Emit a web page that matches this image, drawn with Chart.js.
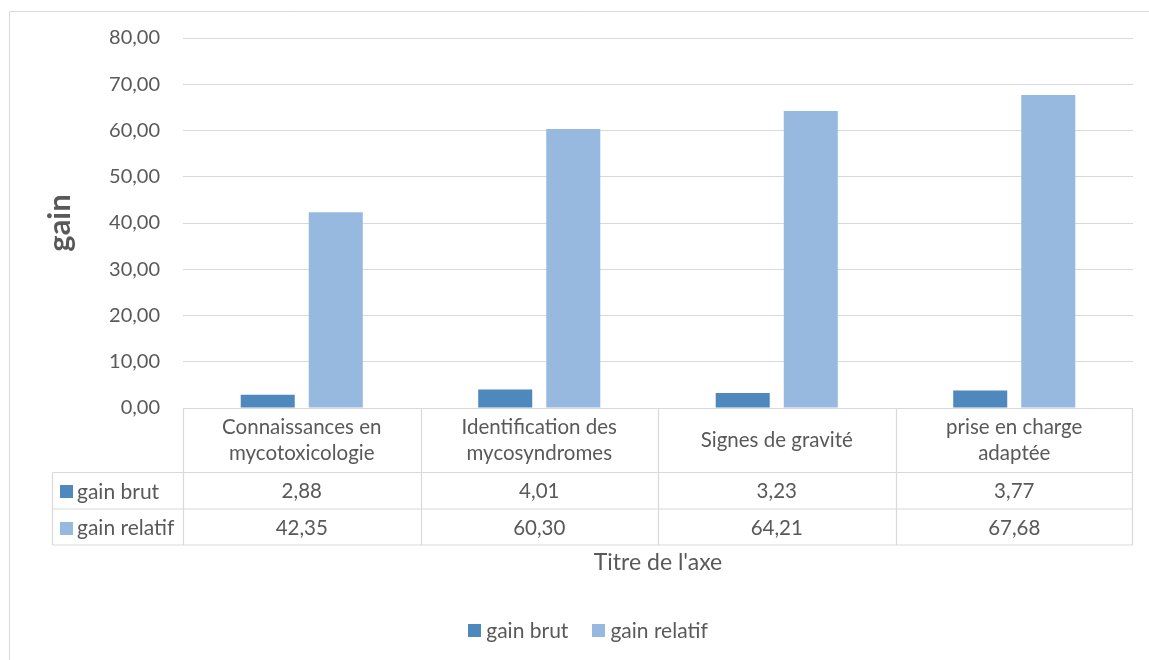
<!DOCTYPE html>
<html>
<head>
<meta charset="utf-8">
<script src="https://cdn.jsdelivr.net/npm/chart.js@4.4.1/dist/chart.umd.min.js"></script>
<style>
  html, body { margin: 0; padding: 0; background: #fff; overflow: hidden; }
  canvas { display: block; }
</style>
</head>
<body>
<canvas id="chart" width="1149" height="660"></canvas>
<script>
// Categories (multi-line labels for the data table header row)
const categories = [
  ['Connaissances en', 'mycotoxicologie'],
  ['Identification des', 'mycosyndromes'],
  ['Signes de gravité'],
  ['prise en charge', 'adaptée']
];
const seriesNames = ['gain brut', 'gain relatif'];
const gainBrut = [2.88, 4.01, 3.23, 3.77];
const gainRelatif = [42.35, 60.30, 64.21, 67.68];
const yTicks = [0, 10, 20, 30, 40, 50, 60, 70, 80];
const yAxisTitle = 'gain';
const xAxisTitle = "Titre de l'axe";

const FONT = 'Lato, "Noto Sans", sans-serif';
const TEXT = '#595959';
const GRID = '#d9d9d9';
const COLORS = ['#4f88bd', '#97b9e0'];

const fmt = v => v.toFixed(2).replace('.', ',');

// Frame, data table, axis title and legend drawn around the plot
const tablePlugin = {
  id: 'dataTable',
  beforeDraw(chart) {
    const ctx = chart.ctx;
    ctx.save();
    ctx.fillStyle = '#fff';
    ctx.fillRect(0, 0, chart.width, chart.height);
    ctx.strokeStyle = GRID;
    ctx.lineWidth = 1;
    ctx.beginPath();
    ctx.moveTo(9.5, chart.height);
    ctx.lineTo(9.5, 11.5);
    ctx.lineTo(chart.width, 11.5);
    ctx.stroke();
    ctx.restore();
  },
  afterDraw(chart) {
    const ctx = chart.ctx;
    const xs = chart.scales.x;
    const ys = chart.scales.y;
    const n = categories.length;
    const half = (xs.getPixelForValue(1) - xs.getPixelForValue(0)) / 2;
    const left = Math.round(xs.getPixelForValue(0) - half) + 0.5;
    const right = Math.round(xs.getPixelForValue(n - 1) + half) - 0.5;
    const top = Math.round(ys.getPixelForValue(0)) + 0.5;
    const rowH = [63, 36, 35.5];
    const r1 = Math.round(top + rowH[0]) + 0.5;
    const r2 = Math.round(r1 + rowH[1]);
    const r3 = Math.round(r2 + rowH[2]);
    const labelLeft = 52.5;

    ctx.save();
    ctx.strokeStyle = GRID;
    ctx.lineWidth = 1.2;
    ctx.beginPath();
    // header row
    ctx.moveTo(left, top); ctx.lineTo(right, top);
    // horizontal rules
    [r1, r2, r3].forEach(y => { ctx.moveTo(labelLeft, y); ctx.lineTo(right, y); });
    // vertical rules between categories
    for (let i = 0; i <= n; i++) {
      const x = i === 0 ? left : (i === n ? right : Math.round(xs.getPixelForValue(i) - half) + 0.5);
      ctx.moveTo(x, top); ctx.lineTo(x, r3);
    }
    ctx.moveTo(labelLeft, r1); ctx.lineTo(labelLeft, r3);
    ctx.stroke();

    ctx.fillStyle = TEXT;
    ctx.font = '20.5px ' + FONT;
    ctx.textAlign = 'center';
    ctx.textBaseline = 'middle';
    const lh = 26;
    categories.forEach((lines, i) => {
      const cx = xs.getPixelForValue(i);
      const cy = (top + r1) / 2;
      lines.forEach((t, k) => {
        ctx.fillText(t, cx, cy + (k - (lines.length - 1) / 2) * lh);
      });
    });

    const rows = [[r1, r2], [r2, r3]];
    chart.data.datasets.forEach((ds, d) => {
      const cy = (rows[d][0] + rows[d][1]) / 2 + 1;
      ctx.font = '20.5px ' + FONT;
      ds.data.forEach((v, i) => {
        ctx.fillStyle = TEXT;
        ctx.textAlign = 'center';
        ctx.fillText(fmt(v), xs.getPixelForValue(i), cy);
      });
      ctx.fillStyle = ds.backgroundColor;
      ctx.fillRect(60, Math.round(cy - 6.5), 13, 13);
      ctx.fillStyle = TEXT;
      ctx.textAlign = 'left';
      ctx.font = '21px ' + FONT;
      ctx.fillText(ds.label, 77, cy);
    });

    // horizontal axis title
    ctx.fillStyle = TEXT;
    ctx.textAlign = 'center';
    ctx.font = '23px ' + FONT;
    ctx.fillText(xAxisTitle, (chart.chartArea.left + chart.chartArea.right) / 2, 563);

    // legend
    ctx.font = '21px ' + FONT;
    const box = 13, gap = 5, between = 24;
    const widths = chart.data.datasets.map(ds => box + gap + ctx.measureText(ds.label).width);
    const total = widths.reduce((a, b) => a + b, 0) + between * (widths.length - 1);
    let x = 588 - total / 2;
    const ly = 630;
    chart.data.datasets.forEach((ds, d) => {
      ctx.fillStyle = ds.backgroundColor;
      ctx.fillRect(Math.round(x), ly - 6, box, box);
      ctx.fillStyle = TEXT;
      ctx.textAlign = 'left';
      ctx.fillText(ds.label, x + box + gap, ly + 1);
      x += widths[d] + between;
    });
    ctx.restore();
  }
};

new Chart(document.getElementById('chart'), {
  type: 'bar',
  data: {
    labels: categories,
    datasets: [
      { label: seriesNames[0], data: gainBrut, backgroundColor: COLORS[0] },
      { label: seriesNames[1], data: gainRelatif, backgroundColor: COLORS[1] }
    ]
  },
  options: {
    responsive: false,
    animation: false,
    layout: { padding: { top: 38, right: 16, left: 0, bottom: 0 } },
    datasets: { bar: { categoryPercentage: 0.573, barPercentage: 0.794 } },
    plugins: { legend: { display: false }, tooltip: { enabled: false } },
    scales: {
      x: {
        grid: { display: false },
        border: { display: false },
        ticks: { display: false },
        afterFit(s) { s.height = 252; }
      },
      y: {
        min: yTicks[0],
        max: yTicks[yTicks.length - 1],
        afterBuildTicks(s) { s.ticks = yTicks.map(v => ({ value: v })); },
        ticks: {
          padding: 23,
          color: TEXT,
          font: { family: FONT, size: 20 },
          callback: v => fmt(v)
        },
        grid: { color: GRID, drawTicks: false, lineWidth: 1 },
        border: { display: false },
        title: {
          display: true,
          text: yAxisTitle,
          color: TEXT,
          font: { family: FONT, size: 31, weight: 'bold' },
          padding: { top: 41 }
        },
        afterFit(s) { s.width = 183; }
      }
    }
  },
  plugins: [tablePlugin]
});
</script>
</body>
</html>
